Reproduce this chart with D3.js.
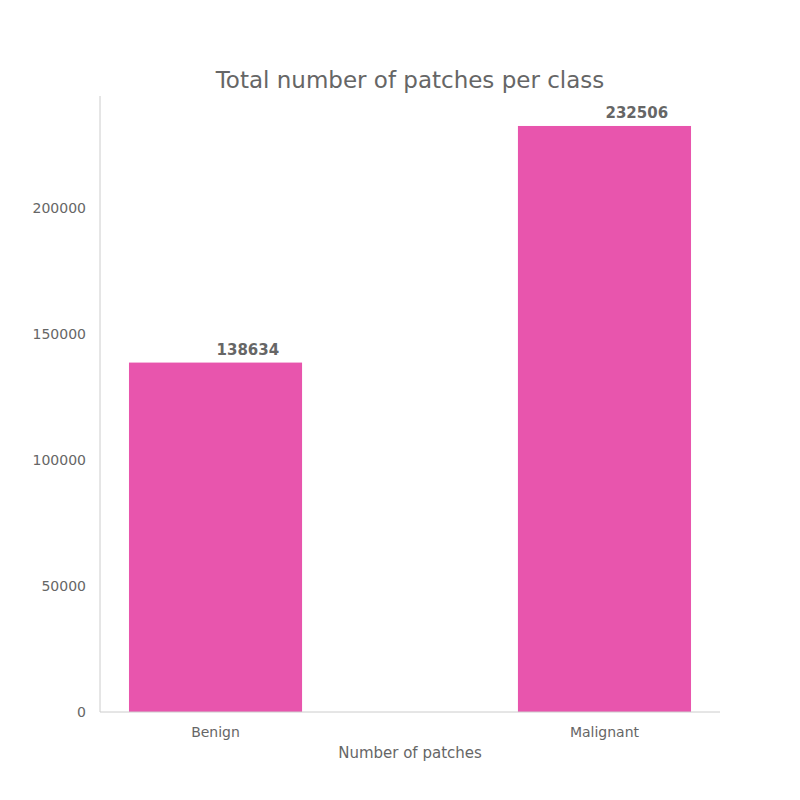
<!DOCTYPE html>
<html><head><meta charset="utf-8">
<script src="https://cdn.jsdelivr.net/npm/d3@7"></script>
<style>body{margin:0;background:#fff;font-family:"DejaVu Sans",sans-serif;}</style>
</head><body><div id="chart"></div>
<script>
const categories = ['Benign', 'Malignant'];
const counts = [138634, 232506];
const yTicks = [0, 50000, 100000, 150000, 200000];

const W = 800, H = 800;
const margin = { top: 96, right: 80, bottom: 88, left: 100 };
const textColor = '#666666';
const barColor = '#e855ad';

const svg = d3.select('#chart').append('svg').attr('width', W).attr('height', H);

const x = d3.scaleLinear().domain([-0.297, 1.297]).range([margin.left, W - margin.right]);
const y = d3.scaleLinear().domain([0, 244400]).range([H - margin.bottom, margin.top]);
const barW = 0.445;

svg.selectAll('rect.bar').data(counts).enter().append('rect')
    .attr('class', 'bar')
    .attr('x', (d, i) => x(i - barW / 2))
    .attr('width', x(barW) - x(0))
    .attr('y', d => y(d))
    .attr('height', d => y(0) - y(d))
    .attr('fill', barColor);

svg.selectAll('text.val').data(counts).enter().append('text')
    .attr('x', (d, i) => x(i) + 1)
    .attr('y', d => y(d) - 8)
    .attr('fill', textColor)
    .attr('font-size', 15).attr('font-weight', 'bold')
    .text(d => d);

// spines
svg.append('line').attr('x1', margin.left).attr('x2', margin.left)
    .attr('y1', margin.top).attr('y2', y(0)).attr('stroke', '#cccccc');
svg.append('line').attr('x1', margin.left).attr('x2', W - margin.right)
    .attr('y1', y(0)).attr('y2', y(0)).attr('stroke', '#cccccc');

svg.selectAll('text.yt').data(yTicks).enter().append('text')
    .attr('x', margin.left - 14).attr('y', d => y(d) + 5)
    .attr('text-anchor', 'end').attr('fill', textColor).attr('font-size', 14)
    .text(d => d);

svg.selectAll('text.xt').data(categories).enter().append('text')
    .attr('x', (d, i) => x(i)).attr('y', y(0) + 25)
    .attr('text-anchor', 'middle').attr('fill', textColor).attr('font-size', 14)
    .text(d => d);

svg.append('text').attr('x', 410).attr('y', 758).attr('text-anchor', 'middle')
    .attr('fill', textColor).attr('font-size', 15).text('Number of patches');

svg.append('text').attr('x', 410).attr('y', 88).attr('text-anchor', 'middle')
    .attr('fill', textColor).attr('font-size', 23).text('Total number of patches per class');
</script></body></html>
